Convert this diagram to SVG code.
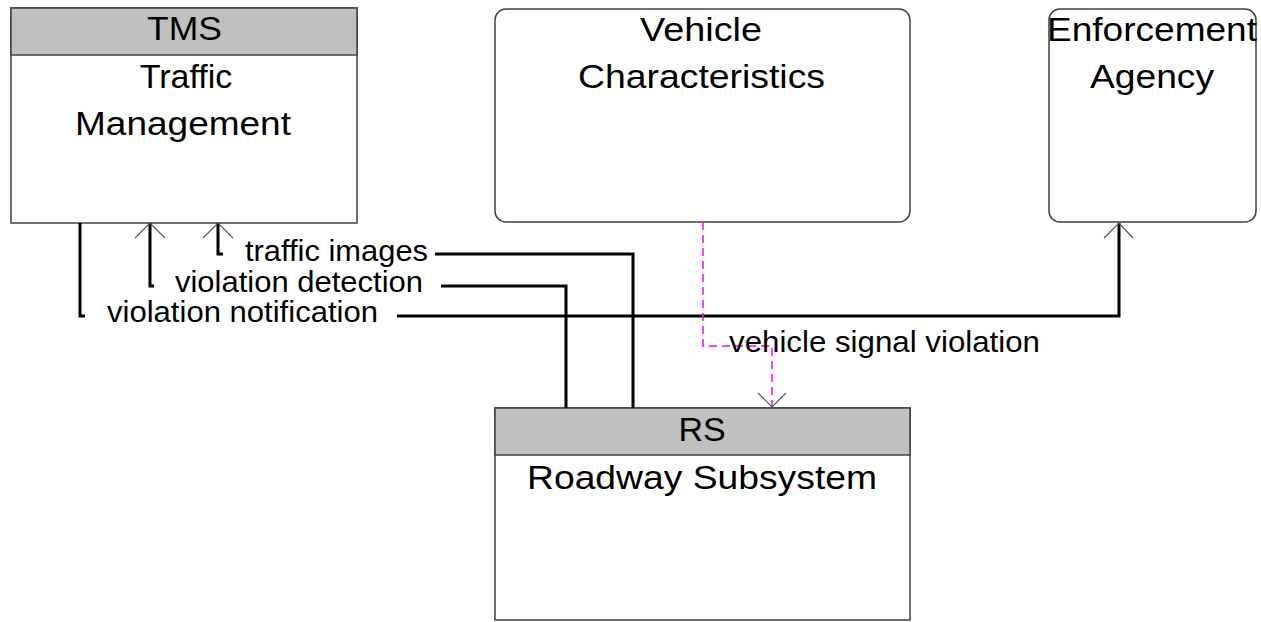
<svg xmlns="http://www.w3.org/2000/svg" width="1261" height="622" viewBox="0 0 1261 622">
<style>
.box{fill:#fff;stroke:#404040;stroke-width:1.5}
.hdr{fill:#c0c0c0;stroke:#404040;stroke-width:1.5}
.nt{font-family:"Liberation Sans",Arial,sans-serif;font-size:34px;fill:#000;text-anchor:middle}
.et{font-family:"Liberation Sans",Arial,sans-serif;font-size:30px;fill:#000}
.flow{fill:none;stroke:#000;stroke-width:3}
.dash{fill:none;stroke:#ff00ff;stroke-width:1.5;stroke-dasharray:8 5}
.ah{fill:none;stroke:#555;stroke-width:1.2}
</style>
<rect width="1261" height="622" fill="#fff"/>
<g id="node-tms">
<rect class="box" x="11" y="8" width="346" height="215"/>
<rect class="hdr" x="11" y="8" width="346" height="47"/>
<text class="nt" x="184.5" y="40" textLength="75" lengthAdjust="spacingAndGlyphs">TMS</text>
<text class="nt" x="186" y="88">Traffic</text>
<text class="nt" x="183" y="135" textLength="216" lengthAdjust="spacingAndGlyphs">Management</text>
</g>
<g id="node-vehicle">
<rect class="box" x="495" y="9" width="415" height="213" rx="11" ry="11"/>
<text class="nt" x="701" y="41" textLength="122" lengthAdjust="spacingAndGlyphs">Vehicle</text>
<text class="nt" x="701.5" y="88" textLength="247" lengthAdjust="spacingAndGlyphs">Characteristics</text>
</g>
<g id="node-enforcement">
<rect class="box" x="1049" y="9" width="207" height="213" rx="11" ry="11"/>
<text class="nt" x="1152" y="41" textLength="210" lengthAdjust="spacingAndGlyphs">Enforcement</text>
<text class="nt" x="1152" y="88" textLength="124" lengthAdjust="spacingAndGlyphs">Agency</text>
</g>
<g id="node-rs">
<rect class="box" x="495" y="408" width="415" height="212"/>
<rect class="hdr" x="495" y="408" width="415" height="47"/>
<text class="nt" x="702" y="441">RS</text>
<text class="nt" x="702" y="489" textLength="350" lengthAdjust="spacingAndGlyphs">Roadway Subsystem</text>
</g>
<g id="connectors">
<g id="flow-traffic-images">
<polyline class="flow" points="218,223 218,254 223,254"/>
<polyline class="flow" points="435,254 633,254 633,408"/>
<polyline class="ah" points="203,238 218,223 233,238"/>
<text class="et" x="245" y="261" textLength="183" lengthAdjust="spacingAndGlyphs">traffic images</text>
</g>
<g id="flow-violation-detection">
<polyline class="flow" points="150,223 150,286 154,286"/>
<polyline class="flow" points="441,286 566,286 566,408"/>
<polyline class="ah" points="135,238 150,223 165,238"/>
<text class="et" x="175" y="292" textLength="248" lengthAdjust="spacingAndGlyphs">violation detection</text>
</g>
<g id="flow-violation-notification">
<polyline class="flow" points="80,223 80,316 85,316"/>
<polyline class="flow" points="397,316 1119,316 1119,223"/>
<polyline class="ah" points="1104,238 1119,223 1133,238"/>
<text class="et" x="107" y="322" textLength="271" lengthAdjust="spacingAndGlyphs">violation notification</text>
</g>
<g id="flow-vehicle-signal-violation">
<polyline class="dash" points="703,222 703,346 772,346 772,406"/>
<polyline class="ah" points="758,393 772,407 786,393"/>
<text class="et" x="729" y="352" textLength="311" lengthAdjust="spacingAndGlyphs">vehicle signal violation</text>
</g>
</g>
</svg>
